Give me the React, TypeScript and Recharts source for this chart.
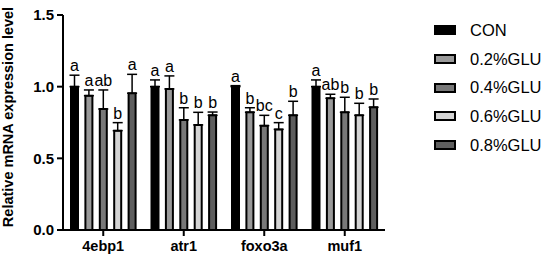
import React from 'react';
import { BarChart, Bar, XAxis, YAxis, ErrorBar, LabelList, Legend } from 'recharts';

const FONT = '"Liberation Sans", Arial, sans-serif';

const genes = ['4ebp1', 'atr1', 'foxo3a', 'muf1'];
const groups = ['CON', '0.2%GLU', '0.4%GLU', '0.6%GLU', '0.8%GLU'];
const fills = ['#000000', '#9a9a9a', '#787878', '#d4d4d4', '#5e5e5e'];

// mean relative expression per group (one value per gene)
const con = [1.0, 1.0, 1.0, 1.0];
const glu02 = [0.937, 0.984, 0.821, 0.919];
const glu04 = [0.844, 0.768, 0.728, 0.821];
const glu06 = [0.693, 0.733, 0.702, 0.8];
const glu08 = [0.954, 0.8, 0.8, 0.856];

// SD (upper whisker only)
const conSd = [0.08, 0.047, 0.007, 0.047];
const glu02Sd = [0.04, 0.091, 0.032, 0.028];
const glu04Sd = [0.133, 0.085, 0.072, 0.105];
const glu06Sd = [0.056, 0.088, 0.047, 0.084];
const glu08Sd = [0.132, 0.023, 0.098, 0.058];

// significance letters
const conSig = ['a', 'a', 'a', 'a'];
const glu02Sig = ['a', 'a', 'b', 'ab'];
const glu04Sig = ['ab', 'b', 'bc', 'b'];
const glu06Sig = ['b', 'b', 'c', 'b'];
const glu08Sig = ['a', 'b', 'b', 'b'];

const yTicks = [0, 0.5, 1.0, 1.5];

const means = [con, glu02, glu04, glu06, glu08];
const sds = [conSd, glu02Sd, glu04Sd, glu06Sd, glu08Sd];
const sigs = [conSig, glu02Sig, glu04Sig, glu06Sig, glu08Sig];

const rows = genes.map((g, i) => {
  const r: any = { gene: g };
  means.forEach((m, k) => {
    r[`v${k}`] = m[i];
    r[`e${k}`] = [0, sds[k][i]];
    r[`s${k}`] = sigs[k][i];
  });
  return r;
});

const sigLabel = (k: number) => (p: any) => {
  const vb = p.viewBox ?? p;
  const idx = p.index;
  const val = rows[idx][`v${k}`];
  const sd = sds[k][idx];
  const pxPerUnit = vb.height / val;
  const top = vb.y - sd * pxPerUnit;
  return (
    <text x={vb.x + vb.width / 2} y={top - 4} textAnchor="middle" fontSize={16} fontFamily={FONT} fill="#000">
      {p.value}
    </text>
  );
};

const yLabel = () => (
  <text x={12.5} y={117} transform="rotate(-90, 12.5, 117)" textAnchor="middle" fontSize={14.5} fontWeight="bold" fontFamily={FONT} fill="#000">
    Relative mRNA expression level
  </text>
);

const renderLegend = () => (
  <div style={{ fontFamily: FONT }}>
    {groups.map((g, k) => (
      <div key={g} style={{ height: 28.7, display: 'flex', alignItems: 'center' }}>
        <div style={{ width: 22, height: 10, boxSizing: 'border-box', background: fills[k], border: '2px solid #000' }} />
        <span style={{ marginLeft: 14, fontSize: 16.5, color: '#000' }}>{g}</span>
      </div>
    ))}
  </div>
);

const App: React.FC = () => (
  <div style={{ position: 'absolute', left: 0, top: 0, width: 550, height: 263, background: '#fff' }}>
    <BarChart width={550} height={263} data={rows} barSize={7} barGap={7.4} margin={{ top: 15, right: 165, bottom: 0, left: 0 }}>
      <XAxis
        dataKey="gene"
        interval={0}
        axisLine={{ stroke: '#000', strokeWidth: 2 }}
        tickLine={{ stroke: '#000', strokeWidth: 2 }}
        tickSize={6}
        tickMargin={5}
        tick={{ fill: '#000', fontSize: 14.5, fontWeight: 'bold', fontFamily: FONT }}
        height={33}
      />
      <YAxis
        width={63}
        domain={[0, 1.5]}
        ticks={yTicks}
        tickFormatter={(v: number) => v.toFixed(1)}
        axisLine={{ stroke: '#000', strokeWidth: 2 }}
        tickLine={{ stroke: '#000', strokeWidth: 2 }}
        tickSize={6}
        tickMargin={3}
        tick={{ fill: '#000', fontSize: 15, fontWeight: 'bold', fontFamily: FONT }}
        label={yLabel}
      />
      <Legend
        layout="vertical"
        align="center"
        verticalAlign="middle"
        content={renderLegend}
        wrapperStyle={{ left: 434, top: 16, width: 116, height: 150 }}
      />
      {groups.map((g, k) => (
        <Bar key={g} dataKey={`v${k}`} name={g} fill={fills[k]} stroke="#000" strokeWidth={2} isAnimationActive={false}>
          <ErrorBar dataKey={`e${k}`} width={5} stroke="#000" strokeWidth={1.5} direction="y" isAnimationActive={false} />
          <LabelList dataKey={`s${k}`} content={sigLabel(k)} />
        </Bar>
      ))}
    </BarChart>
  </div>
);

export default App;
